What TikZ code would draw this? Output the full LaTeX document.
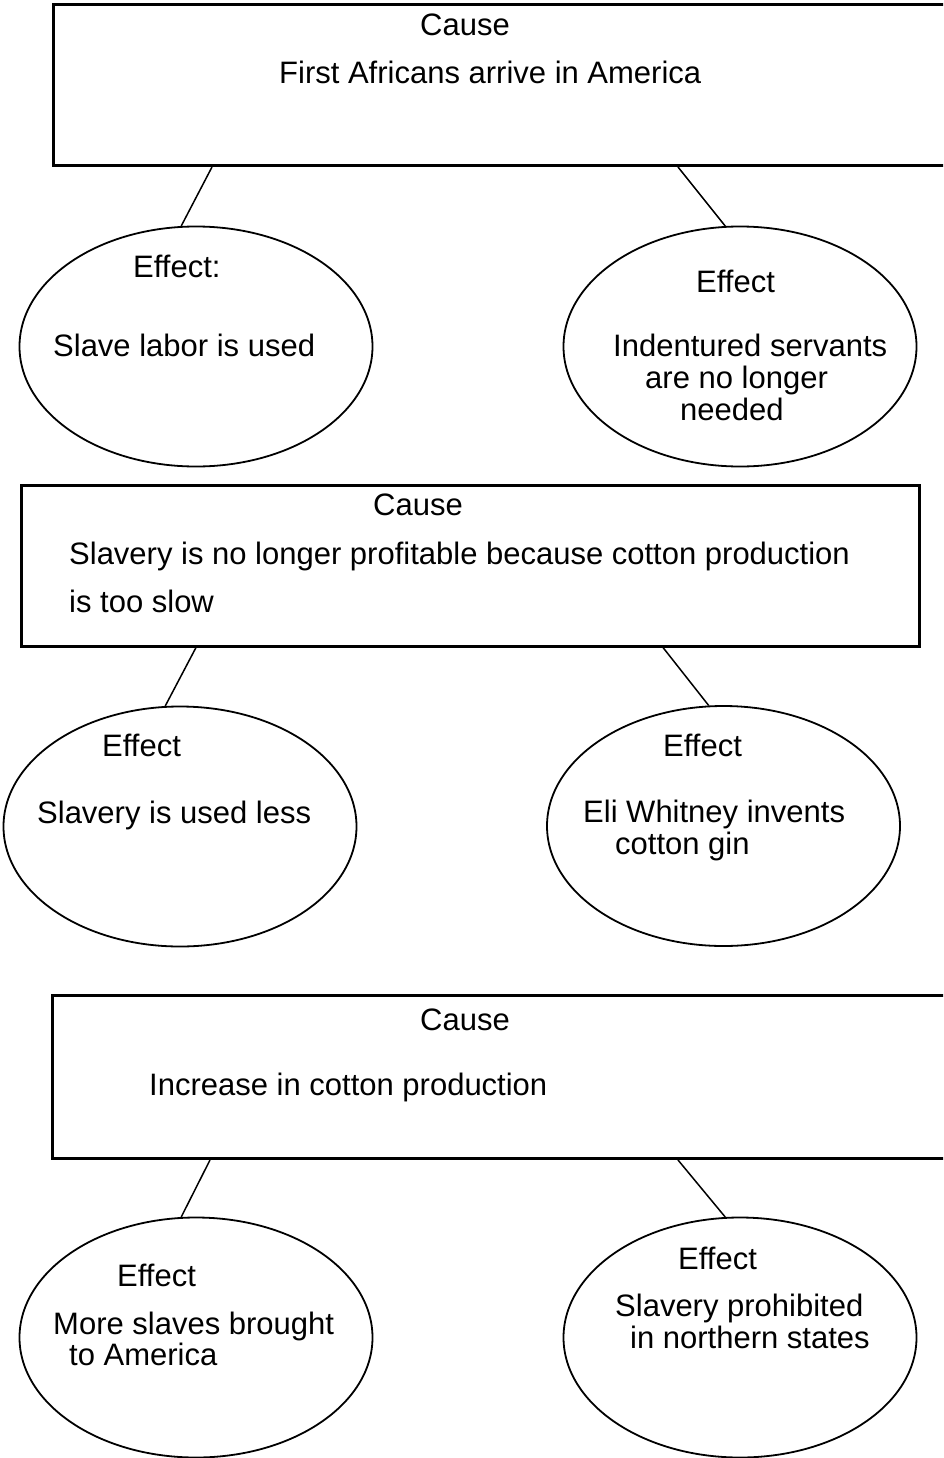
\documentclass[tikz,border=0pt]{standalone}
\usepackage{fontspec}
\setmainfont{Liberation Sans}[Ligatures=NoCommon]
\usetikzlibrary{shapes.geometric}
\begin{document}
\begin{tikzpicture}[x=1pt,y=-1pt,
  causebox/.style={draw, line width=3pt, rectangle, anchor=north west, inner sep=0pt},
  effectell/.style={draw, line width=1.8pt, ellipse, inner sep=0pt, minimum width=353pt, minimum height=240pt},
  lbl/.style={anchor=base west, inner sep=0pt, yshift=-2pt, font=\fontsize{31pt}{36pt}\selectfont},
  link/.style={line width=1.5pt}]
\useasboundingbox (0,0) rectangle (943,1458);
\clip (0,0) rectangle (943,1458);

% ---------- Group 1 ----------
\node[causebox, minimum width=908pt, minimum height=161pt] (b1) at (52,3) {};
\node[lbl] (b1h) at (420,34) {Cause};
\node[lbl] (b1t) at (279,82) {First Africans arrive in America};

\node[effectell] (e1) at (196,346.5) {};
\node[lbl] (e1h) at (133,275) {Effect:};
\node[lbl] (e1t) at (53,354) {Slave labor is used};

\node[effectell] (e2) at (740,346.5) {};
\node[lbl] (e2h) at (696,290) {Effect};
\node[lbl] (e2t1) at (613,354) {Indentured servants};
\node[lbl] (e2t2) at (645,386) {are no longer};
\node[lbl] (e2t3) at (680,418) {needed};

\draw[link] ([xshift=160pt]b1.south west) -- (e1.97.5);
\draw[link] ([xshift=626pt]b1.south west) -- (e2.97);

% ---------- Group 2 ----------
\node[causebox, minimum width=898pt, minimum height=161pt] (b2) at (20,483.5) {};
\node[lbl] (b2h) at (373,513) {Cause};
\node[lbl] (b2t1) at (69,562) {Slavery is no longer profitable because cotton production};
\node[lbl] (b2t2) at (69,610) {is too slow};

\node[effectell] (e3) at (180,826.5) {};
\node[lbl] (e3h) at (102,754) {Effect};
\node[lbl] (e3t) at (37,821) {Slavery is used less};

\node[effectell] (e4) at (723.5,826) {};
\node[lbl] (e4h) at (663,754) {Effect};
\node[lbl] (e4t1) at (583,820) {Eli Whitney invents};
\node[lbl] (e4t2) at (615,852) {cotton gin};

\draw[link] ([xshift=176pt]b2.south west) -- (e3.97.5);
\draw[link] ([xshift=643pt]b2.south west) -- (e4.97);

% ---------- Group 3 ----------
\node[causebox, minimum width=909pt, minimum height=163pt] (b3) at (51,994) {};
\node[lbl] (b3h) at (420,1028) {Cause};
\node[lbl] (b3t) at (149,1093) {Increase in cotton production};

\node[effectell] (e5) at (196,1337.5) {};
\node[lbl] (e5h) at (117,1284) {Effect};
\node[lbl] (e5t1) at (53,1332) {More slaves brought};
\node[lbl] (e5t2) at (69,1363) {to America};

\node[effectell] (e6) at (740,1337.5) {};
\node[lbl] (e6h) at (678,1267) {Effect};
\node[lbl] (e6t1) at (615,1314) {Slavery prohibited};
\node[lbl] (e6t2) at (630,1346) {in northern states};

\draw[link] ([xshift=159pt]b3.south west) -- (e5.97.5);
\draw[link] ([xshift=627pt]b3.south west) -- (e6.97.5);
\end{tikzpicture}
\end{document}
